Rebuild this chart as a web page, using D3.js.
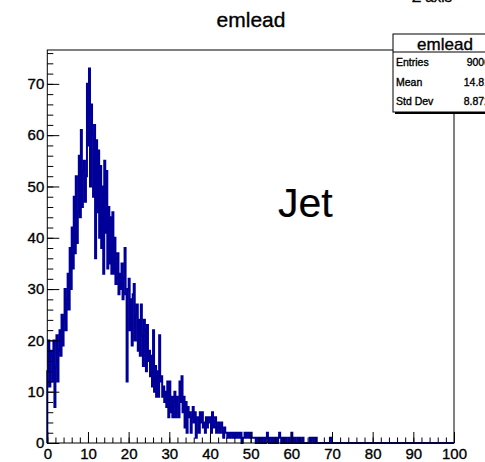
<!DOCTYPE html>
<html><head><meta charset="utf-8">
<script src="https://cdn.jsdelivr.net/npm/d3@7"></script>
<style>body{margin:0;background:#fff;overflow:hidden} svg{display:block} text{font-family:"Liberation Sans",Arial,Helvetica,sans-serif;stroke:#000;stroke-width:0.35px}</style>
</head><body><svg id="c" width="485" height="462"></svg>
<script>
const histTitle = "emlead";
const annotation = "Jet";
const zAxisTitle = "Z axis";
const binLow = 0, binWidth = 0.25;
const axisMin = 0, axisMax = 100;
// bin contents, 4 bins per unit of x, starting at x = 0
const counts = [
 14,20,11,18,  17,12,20,7,   15,21,12,18,  22,17,25,19,  24,30,22,28,
 33,26,38,30,  42,34,48,37,  52,39,45,56,  44,61,46,53,  55,47,52,70,
 58,73,50,66,  60,48,62,36,  59,45,57,40,  54,38,50,33,  55,41,53,34,
 46,35,44,33,  45,33,40,31,  34,37,29,33,  30,35,28,32,  38,29,12,30,
 32,22,28,19,  29,31,20,25,  27,18,24,17,  27,21,15,24,  22,14,23,16,
 18,13,17,11,  22,10,15,9,   14,9,21,12,   13,9,11,8,    10,7,12,5,
 12,6,9,5,     8,10,5,9,     7,5,12,8,     13,6,9,3,     8,2,7,5,
 6,2,5,7,      4,6,1,5,      5,2,6,4,      6,3,4,2,      5,3,5,4,
 5,2,6,3,      4,5,2,3,      4,2,3,4,      2,1,3,2,      2,1,2,1,
 2,2,1,2,      1,2,1,2,      2,1,2,0,      1,1,2,1,      2,1,2,1,
 2,1,1,1,      1,0,1,1,      0,1,1,0,      1,1,0,1,      2,1,0,1,
 1,0,1,0,      0,1,0,1,      2,1,0,1,      1,0,1,0,      0,1,0,0,
 2,1,0,1,      0,0,1,0,      1,0,0,1,      0,0,0,0,      0,0,1,0,
 1,1,0,0,      1,0,0,0,      0,0,0,0,      0,0,0,0,      0,0,1,0
];
const xMajor = [0,10,20,30,40,50,60,70,80,90,100];
const xMinor = d3.range(0, 101, 2);
const yMajor = [0,10,20,30,40,50,60,70];
const yMinor = d3.range(0, 77, 2);
const statsLabels = ["Entries","Mean","Std Dev"];
const statsValues = ["9000","14.81","8.872"];

const svg = d3.select("#c");
const x = d3.scaleLinear().domain([axisMin, axisMax]).range([47.3, 454]);
const y = d3.scaleLinear().domain([0, 76.6]).range([443, 50]);
const histColor = "#000099";

// histogram step line
const pts = [[x(binLow), y(0)]];
counts.forEach((c, i) => {
  const lo = binLow + i * binWidth, hi = lo + binWidth;
  pts.push([x(lo), y(c)], [x(hi), y(c)]);
});
pts.push([x(binLow + counts.length * binWidth), y(0)], [x(axisMax), y(0)]);
svg.append("path").attr("d", d3.line()(pts))
  .attr("fill", "none").attr("stroke", histColor).attr("stroke-width", 2)
  .attr("stroke-linejoin", "miter");

// frame
svg.append("rect").attr("x", x(axisMin)).attr("y", y.range()[1])
  .attr("width", x(axisMax) - x(axisMin)).attr("height", y.range()[0] - y.range()[1])
  .attr("fill", "none").attr("stroke", "#000").attr("stroke-width", 1);

// axes
function styleAxis(g){ g.select(".domain").remove(); g.selectAll("line").attr("stroke","#000"); g.selectAll("text").attr("fill","#000").style("font-size","15px").style("font-family","'Liberation Sans',Arial,sans-serif"); }
svg.append("g").attr("transform", `translate(0,${y(0)})`)
  .call(d3.axisBottom(x).tickValues(xMinor).tickSize(-5.5).tickFormat("")).call(styleAxis);
svg.append("g").attr("transform", `translate(0,${y(0)})`)
  .call(d3.axisBottom(x).tickValues(xMajor).tickSize(-11).tickPadding(5).tickFormat(d3.format("d"))).call(styleAxis);
svg.append("g").attr("transform", `translate(${x(axisMin)},0)`)
  .call(d3.axisLeft(y).tickValues(yMinor).tickSize(-6).tickFormat("")).call(styleAxis);
svg.append("g").attr("transform", `translate(${x(axisMin)},0)`)
  .call(d3.axisLeft(y).tickValues(yMajor).tickSize(-12).tickPadding(3).tickFormat(d3.format("d"))).call(styleAxis);

// title
svg.append("text").attr("x", 251).attr("y", 27).attr("text-anchor", "middle")
  .style("font-size", "21px").attr("fill", "#000").text(histTitle);
// z axis title (cut off at top in the reference)
svg.append("text").attr("x", 412).attr("y", 2).style("font-size", "15px").attr("fill", "#000").text(zAxisTitle);
// annotation
svg.append("text").attr("x", 278).attr("y", 217).style("font-size", "41px").attr("fill", "#000").style("stroke-width", "0.2px").text(annotation);

// stats box
const bx = 393, by = 34, bw = 104, bh = 78;
svg.append("rect").attr("x", bx + 2).attr("y", by + 2).attr("width", bw).attr("height", bh).attr("fill", "#000");
svg.append("rect").attr("x", bx).attr("y", by).attr("width", bw).attr("height", bh).attr("fill", "#fff").attr("stroke", "#000").attr("stroke-width", 1);
svg.append("line").attr("x1", bx).attr("x2", bx + bw).attr("y1", 52).attr("y2", 52).attr("stroke", "#000");
svg.append("text").attr("x", bx + bw / 2).attr("y", 50).attr("text-anchor", "middle").style("font-size", "17px").attr("fill", "#000").text(histTitle);
const rowY = [66, 86, 105];
statsLabels.forEach((l, i) => {
  svg.append("text").attr("x", 396).attr("y", rowY[i]).style("font-size", "10.5px").attr("fill", "#000").text(l);
  svg.append("text").attr("x", 490).attr("y", rowY[i]).attr("text-anchor", "end").style("font-size", "10.5px").attr("fill", "#000").text(statsValues[i]);
});
</script></body></html>
